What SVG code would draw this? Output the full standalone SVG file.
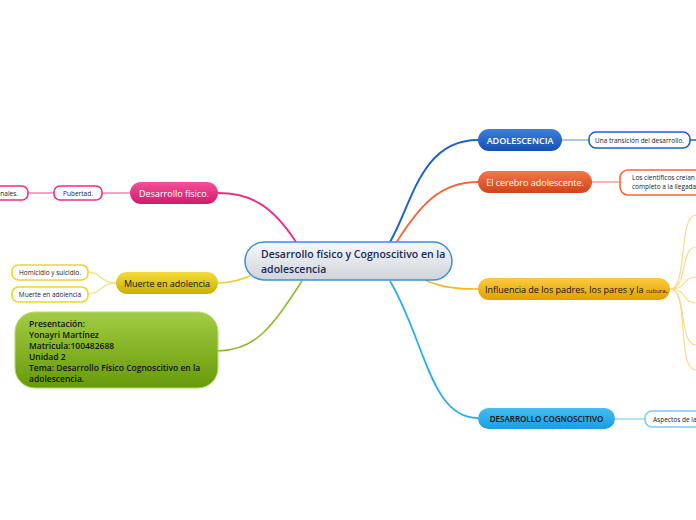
<svg xmlns="http://www.w3.org/2000/svg" width="696" height="520" viewBox="0 0 696 520">
<defs>
<linearGradient id="gC" x1="0" y1="0" x2="0" y2="1"><stop offset="0" stop-color="#f7f8fa"/><stop offset="1" stop-color="#cfd4da"/></linearGradient>
<linearGradient id="gBlue" x1="0" y1="0" x2="0" y2="1"><stop offset="0" stop-color="#3a80dc"/><stop offset="1" stop-color="#1650b0"/></linearGradient>
<linearGradient id="gRed" x1="0" y1="0" x2="0" y2="1"><stop offset="0" stop-color="#f5784a"/><stop offset="1" stop-color="#cf4318"/></linearGradient>
<linearGradient id="gPink" x1="0" y1="0" x2="0" y2="1"><stop offset="0" stop-color="#f2529a"/><stop offset="1" stop-color="#d4186a"/></linearGradient>
<linearGradient id="gYel" x1="0" y1="0" x2="0" y2="1"><stop offset="0" stop-color="#f3dc3a"/><stop offset="1" stop-color="#cbae04"/></linearGradient>
<linearGradient id="gOr" x1="0" y1="0" x2="0" y2="1"><stop offset="0" stop-color="#fdca42"/><stop offset="1" stop-color="#e0a000"/></linearGradient>
<linearGradient id="gGreen" x1="0" y1="0" x2="0" y2="1"><stop offset="0" stop-color="#a2cc44"/><stop offset="1" stop-color="#679a08"/></linearGradient>
<linearGradient id="gSky" x1="0" y1="0" x2="0" y2="1"><stop offset="0" stop-color="#44bdf2"/><stop offset="1" stop-color="#1a9ee0"/></linearGradient>
</defs>
<style>
text{font-family:"Open Sans","Noto Sans","DejaVu Sans",sans-serif}
.main{font-size:9px;fill:#fff}
.sub{font-size:6.5px;fill:#222}
.leaf{fill:#fff;stroke-width:1.6}
.cn{fill:none}
</style>
<g id="connectors">
<path class="cn" d="M390,242 C412,205 420,140 478,140" stroke="#1d62cc" stroke-width="2"/>
<path class="cn" d="M396,243 C420,205 440,182 478,182" stroke="#f06a3a" stroke-width="1.8"/>
<path class="cn" d="M296,242 C272,205 250,193 218,193" stroke="#ee2d82" stroke-width="1.8"/>
<path class="cn" d="M250,276 C238,281 230,283 218,283" stroke="#e6cf2a" stroke-width="1.6"/>
<path class="cn" d="M302,281 C270,330 255,350 218,351" stroke="#8cbc24" stroke-width="1.6"/>
<path class="cn" d="M425,280 C440,287 455,289 478,289" stroke="#f7b818" stroke-width="1.6"/>
<path class="cn" d="M390,281 C425,340 430,418 478,418" stroke="#2ab0ee" stroke-width="1.8"/>
<path class="cn" d="M562,140 L589,140" stroke="#8db6ea" stroke-width="1.5"/>
<path class="cn" d="M690,140 L696,140" stroke="#1d62cc" stroke-width="1.5"/>
<path class="cn" d="M592,182 L620,182" stroke="#f5a585" stroke-width="1.5"/>
<path class="cn" d="M102,193 L130,193" stroke="#f585b5" stroke-width="1.5"/>
<path class="cn" d="M28,193 L54,193" stroke="#f585b5" stroke-width="1.5"/>
<path class="cn" d="M116,283 C100,283 102,272 88,272" stroke="#f3e38a" stroke-width="1.3"/>
<path class="cn" d="M116,283 C100,283 102,294 88,294" stroke="#f3e38a" stroke-width="1.3"/>
<path class="cn" d="M615,419 L645,419" stroke="#9ad8f6" stroke-width="1.5"/>
<g stroke="#fcd98a" stroke-width="1.2" fill="none">
<path d="M670,289 C688,289 678,215 696,215"/>
<path d="M670,289 C688,289 680,247 696,247"/>
<path d="M670,289 C688,289 682,277 696,277"/>
<path d="M670,289 C688,289 682,303 696,303"/>
<path d="M670,289 C688,289 678,345 696,345"/>
<path d="M670,289 C690,289 676,370 696,370"/>
</g>
</g>
<g id="center">
<rect x="245" y="242" width="207" height="38" rx="19" fill="url(#gC)" stroke="#3d8fd8" stroke-width="1.5"/>
<text x="261" y="258" font-size="10.5" font-weight="600" fill="#1b2a52">Desarrollo físico y Cognoscitivo en la</text>
<text x="261" y="273" font-size="10.5" font-weight="600" fill="#1b2a52">adolescencia</text>
</g>
<g id="adolescencia">
<rect x="478" y="129" width="84" height="22" rx="11" fill="url(#gBlue)"/>
<text x="520" y="143.5" class="main" text-anchor="middle" font-weight="600" font-size="8.5">ADOLESCENCIA</text>
</g>
<g id="transicion">
<rect x="589" y="132" width="101" height="16" rx="7" class="leaf" stroke="#1d62cc"/>
<text x="639.5" y="142.5" class="sub" text-anchor="middle">Una transición del desarrollo.</text>
</g>
<g id="cerebro">
<rect x="478" y="171" width="114" height="22" rx="11" fill="url(#gRed)"/>
<text x="535" y="185.5" class="main" text-anchor="middle">El cerebro adolescente.</text>
</g>
<g id="cientificos">
<rect x="620" y="170" width="90" height="25" rx="8" class="leaf" stroke="#f06a3a"/>
<text x="632" y="180" class="sub" font-size="6">Los científicos creían q</text>
<text x="632" y="189" class="sub" font-size="6">completo a la llegada d</text>
</g>
<g id="influencia">
<rect x="478" y="278" width="192" height="22" rx="11" fill="url(#gOr)"/>
<text x="485" y="292.5" font-size="9" fill="#111">Influencia de los padres, los pares y la <tspan font-size="6">cultura</tspan>.</text>
</g>
<g id="cognoscitivo">
<rect x="478" y="408" width="137" height="21" rx="10.5" fill="url(#gSky)"/>
<text x="546.5" y="422" font-size="8" fill="#111" text-anchor="middle" font-weight="600">DESARROLLO COGNOSCITIVO</text>
</g>
<g id="aspectos">
<rect x="645" y="411" width="70" height="16" rx="7" class="leaf" stroke="#7ccaf2"/>
<text x="653" y="421.5" class="sub" font-size="6">Aspectos de la</text>
</g>
<g id="fisico">
<rect x="130" y="182" width="88" height="22" rx="11" fill="url(#gPink)"/>
<text x="174" y="196.5" class="main" text-anchor="middle">Desarrollo físico.</text>
</g>
<g id="pubertad">
<rect x="54" y="186" width="48" height="14" rx="6" class="leaf" stroke="#ee2d82"/>
<text x="78" y="195.5" class="sub" text-anchor="middle">Pubertad.</text>
</g>
<g id="nales">
<rect x="-20" y="186" width="48" height="14" rx="6" class="leaf" stroke="#ee2d82"/>
<text x="18" y="195.5" class="sub" text-anchor="end">enales.</text>
</g>
<g id="muerte">
<rect x="116" y="272" width="102" height="22" rx="11" fill="url(#gYel)"/>
<text x="167" y="286.5" font-size="9" fill="#111" text-anchor="middle">Muerte en adolencia</text>
</g>
<g id="homicidio">
<rect x="12" y="265" width="76" height="15" rx="6.5" class="leaf" stroke="#ecd52e"/>
<text x="50" y="275" class="sub" text-anchor="middle">Homicidio y suicidio.</text>
</g>
<g id="muerte2">
<rect x="12" y="287" width="76" height="15" rx="6.5" class="leaf" stroke="#ecd52e"/>
<text x="50" y="297" class="sub" text-anchor="middle" font-size="6">Muerte en adolencia</text>
</g>
<g id="presentacion">
<rect x="15" y="312" width="203" height="76" rx="20" fill="url(#gGreen)" stroke="#b6da6a" stroke-width="1"/>
<g font-size="8.5" font-weight="600" fill="#111">
<text x="29" y="327">Presentación:</text>
<text x="29" y="338">Yonayri Martínez</text>
<text x="29" y="349">Matricula:100482688</text>
<text x="29" y="360">Unidad 2</text>
<text x="29" y="371">Tema: Desarrollo Físico Cognoscitivo en la</text>
<text x="29" y="382">adolescencia.</text>
</g>
</g>
</svg>
